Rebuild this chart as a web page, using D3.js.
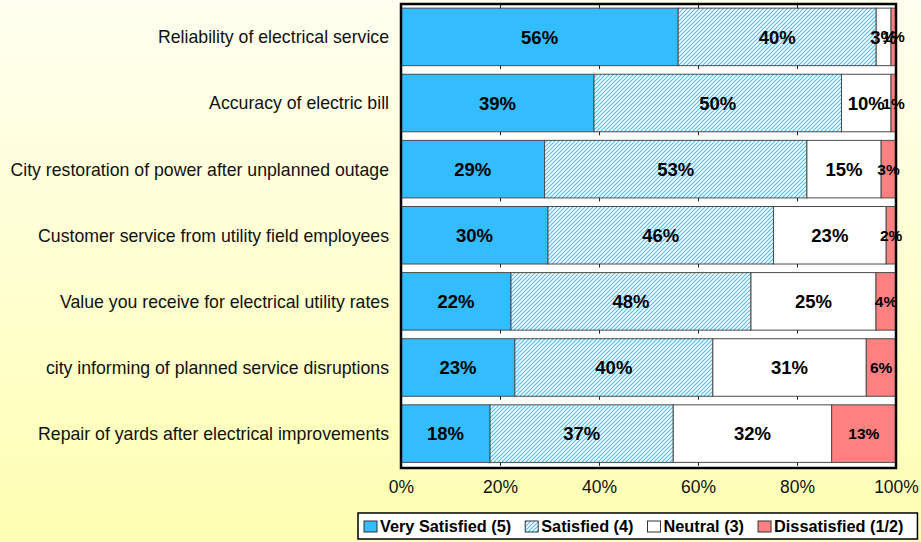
<!DOCTYPE html>
<html>
<head>
<meta charset="utf-8">
<script src="https://cdnjs.cloudflare.com/ajax/libs/d3/7.8.5/d3.min.js"></script>
<style>
  html, body { margin: 0; padding: 0; }
  body { width: 921px; height: 542px; overflow: hidden; }
  svg { display: block; font-family: "Liberation Sans", Arial, sans-serif; }
</style>
</head>
<body>
<svg id="chart" width="921" height="542"></svg>
<script>
// Survey items, top to bottom
const categories = [
  "Reliability of electrical service",
  "Accuracy of electric bill",
  "City restoration of power after unplanned outage",
  "Customer service from utility field employees",
  "Value you receive for electrical utility rates",
  "city informing of planned service disruptions",
  "Repair of yards after electrical improvements"
];
const seriesNames = ["Very Satisfied (5)", "Satisfied (4)", "Neutral (3)", "Dissatisfied (1/2)"];
// Percent of respondents per rating, in category order
const verySatisfied = [56, 39, 29, 30, 22, 23, 18];
const satisfied     = [40, 50, 53, 46, 48, 40, 37];
const neutral       = [3, 10, 15, 23, 25, 31, 32];
const dissatisfied  = [1, 1, 3, 2, 4, 6, 13];
const tickValues = [0, 0.2, 0.4, 0.6, 0.8, 1.0];

const seriesKeys = ["vs", "s", "n", "d"];
const rows = categories.map((c, i) => ({
  cat: c, vs: verySatisfied[i], s: satisfied[i], n: neutral[i], d: dissatisfied[i]
}));

const svg = d3.select("#chart");
const W = 921, H = 542;

// Background gradient
const defs = svg.append("defs");
const grad = defs.append("linearGradient").attr("id", "bg")
  .attr("x1", 0).attr("y1", 0).attr("x2", 0).attr("y2", 1);
grad.append("stop").attr("offset", "0%").attr("stop-color", "#FFFFF0");
grad.append("stop").attr("offset", "100%").attr("stop-color", "#FFFFB3");
svg.append("rect").attr("width", W).attr("height", H).attr("fill", "url(#bg)");

// Diagonal hatch for "Satisfied"
const hatch = defs.append("pattern").attr("id", "hatch")
  .attr("patternUnits", "userSpaceOnUse").attr("width", 4).attr("height", 4);
hatch.append("rect").attr("width", 4).attr("height", 4).attr("fill", "#FFFFFF");
hatch.append("path").attr("d", "M-1,1 l2,-2 M0,4 l4,-4 M3,5 l2,-2")
  .attr("stroke", "#45C2FF").attr("stroke-width", 1.2);

const fills = { vs: "#33BDFF", s: "url(#hatch)", n: "#FFFFFF", d: "#FF8080" };

const plot = { left: 401, right: 896, top: 4, bottom: 468 };

const x = d3.scaleLinear().domain([0, 1]).range([plot.left, plot.right]);
const y = d3.scaleBand().domain(categories)
  .range([plot.top - 0.5, plot.bottom - 1]).paddingInner(0.13).paddingOuter(0.07);

// Plot area
svg.append("rect").attr("x", plot.left).attr("y", plot.top)
  .attr("width", plot.right - plot.left).attr("height", plot.bottom - plot.top)
  .attr("fill", "#FFFFFF");

// 100% stacked layout
const stack = d3.stack().keys(seriesKeys).offset(d3.stackOffsetExpand);
const layers = stack(rows);

const gBars = svg.append("g");
layers.forEach(layer => {
  gBars.selectAll(null).data(layer).enter().append("rect")
    .attr("x", d => x(d[0]))
    .attr("y", d => y(d.data.cat))
    .attr("width", d => Math.max(0, x(d[1]) - x(d[0])))
    .attr("height", y.bandwidth())
    .attr("fill", fills[layer.key])
    .attr("stroke", "#4a4a4a")
    .attr("stroke-width", 1);
});

// Small tick marks under the top edge and in each gap between bars
const tickRows = [plot.top + 1].concat(categories.map(c => y(c) + y.bandwidth()));
const gTicks = svg.append("g");
tickRows.forEach(ty => {
  tickValues.slice(1, -1).forEach(v => {
    gTicks.append("line")
      .attr("x1", Math.round(x(v)) + 0.5).attr("x2", Math.round(x(v)) + 0.5)
      .attr("y1", ty).attr("y2", ty + 3.5)
      .attr("stroke", "#222").attr("stroke-width", 1);
  });
});

// Frame
svg.append("rect").attr("x", plot.left).attr("y", plot.top)
  .attr("width", plot.right - plot.left).attr("height", plot.bottom - plot.top)
  .attr("fill", "none").attr("stroke", "#000").attr("stroke-width", 2.5);

// Segment value labels
const gLabels = svg.append("g").attr("font-weight", "bold").attr("fill", "#000");
layers.forEach(layer => {
  gLabels.selectAll(null).data(layer).enter().append("text")
    .attr("x", d => (x(d[0]) + x(d[1])) / 2)
    .attr("y", d => y(d.data.cat) + y.bandwidth() / 2)
    .attr("dy", "0.36em")
    .attr("text-anchor", "middle")
    .attr("font-size", layer.key === "d" ? 15.5 : 18.5)
    .text(d => d.data[layer.key] + "%");
});

// Category labels
svg.append("g").selectAll("text").data(categories).enter().append("text")
  .attr("x", 389)
  .attr("y", d => y(d) + y.bandwidth() / 2)
  .attr("dy", "0.36em")
  .attr("text-anchor", "end")
  .attr("font-size", 17.7)
  .attr("fill", "#111")
  .text(d => d);

// Value axis labels
const xAxis = d3.axisBottom(x).tickValues(tickValues).tickSize(0).tickPadding(0)
  .tickFormat(d3.format(".0%"));
const gx = svg.append("g").attr("transform", `translate(0,${plot.bottom + 13})`).call(xAxis);
gx.select(".domain").remove();
gx.selectAll("text").attr("font-size", 17.5).attr("fill", "#111")
  .attr("font-family", "Liberation Sans, Arial, sans-serif").attr("dy", "0.71em");

// Legend
const lg = svg.append("g");
const box = lg.append("rect").attr("fill", "#FFFFFF").attr("stroke", "#000").attr("stroke-width", 1.5);
let lx = 364;
const ly = 526.5;
let lastEnd = lx;
seriesKeys.forEach((k, i) => {
  lg.append("rect").attr("x", lx).attr("y", ly - 5.5).attr("width", 13).attr("height", 11)
    .attr("fill", fills[k]).attr("stroke", "#333").attr("stroke-width", 1);
  const t = lg.append("text").attr("x", lx + 16).attr("y", ly).attr("dy", "0.36em")
    .attr("font-size", 16.3).attr("font-weight", "bold").attr("fill", "#000")
    .text(seriesNames[i]);
  lastEnd = lx + 16 + t.node().getComputedTextLength();
  lx = lastEnd + 14;
});
box.attr("x", 358).attr("y", 513).attr("width", lastEnd + 14 - 358).attr("height", 26);
</script>
</body>
</html>
